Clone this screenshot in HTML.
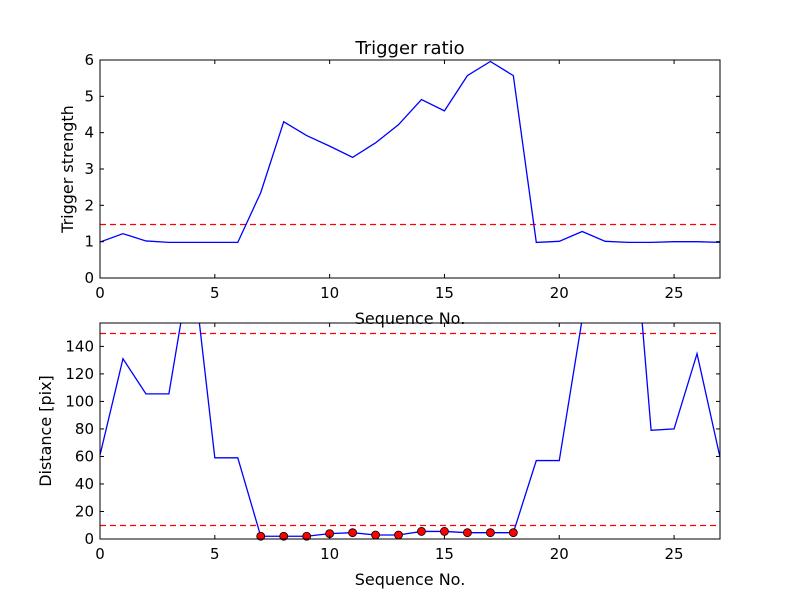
<!DOCTYPE html>
<html><head><meta charset="utf-8"><style>
body{margin:0;background:#fff}
svg{display:block;font-family:"DejaVu Sans","Liberation Sans",sans-serif}
</style></head><body>
<svg id="fig" width="800" height="600">
</svg>
<script>
const seq = [0,1,2,3,4,5,6,7,8,9,10,11,12,13,14,15,16,17,18,19,20,21,22,23,24,25,26,27];
const strength = [0.99,1.22,1.02,0.98,0.98,0.98,0.98,2.35,4.30,3.92,3.63,3.32,3.72,4.22,4.91,4.60,5.57,5.96,5.57,0.98,1.01,1.28,1.01,0.98,0.98,1.0,1.0,0.98];
const strengthThreshold = 1.5;
const distance = [61,131,105.5,105.5,205,59,59,2,2,2,3.9,4.6,2.9,2.9,5.5,5.5,4.6,4.6,4.6,57,57,160,250,280,79,80,134.7,59.4];
const markerIdx = [7,8,9,10,11,12,13,14,15,16,17,18];
const distThresholds = [150,10];
const xTicks = [0,5,10,15,20,25];
const yTicksTop = [0,1,2,3,4,5,6];
const yTicksBot = [0,20,40,60,80,100,120,140];

const NS="http://www.w3.org/2000/svg";
const svg=document.getElementById('fig');
function mk(tag,attrs,parent){const e=document.createElementNS(NS,tag);for(const k in attrs)e.setAttribute(k,attrs[k]);(parent||svg).appendChild(e);return e;}
const X0=100,X1=720;
const xs=v=>X0+(v-0)/(27-0)*(X1-X0);

function panel(name,top,bot,ymax,yTicks,series,thresholds,xlabel,ylabel,title,markers){
  const ys=v=>bot-(v/ymax)*(bot-top);
  const g=mk('g',{});
  
  
  const cp=mk('clipPath',{id:'cp-'+name},g);
  mk('rect',{x:X0,y:top,width:X1-X0,height:bot-top},cp);
  const plot=mk('g',{'clip-path':'url(#cp-'+name+')'},g);
  thresholds.forEach(t=>{
    const l=mk('line',{x1:X0,x2:X1,y1:Math.round(ys(t))+0.5,y2:Math.round(ys(t))+0.5,stroke:'#ff0000','stroke-width':1.3,'stroke-dasharray':'6,4'},plot);
    
    
  });
  const pts=seq.map((s,i)=>xs(s)+','+ys(series[i])).join(' ');
  const pl=mk('polyline',{points:pts,fill:'none',stroke:'#0000ff','stroke-width':1.3},plot);
  
  
  if(markers){markers.forEach(i=>{
    const c=mk('circle',{cx:xs(seq[i]),cy:ys(series[i]),r:4,fill:'#ff0000',stroke:'#000','stroke-width':0.8},g);
    
    
  });}
  mk('rect',{x:X0,y:top,width:X1-X0,height:bot-top,fill:'none',stroke:'#000','stroke-width':1},g);
  xTicks.forEach(t=>{
    const x=xs(t);
    mk('line',{x1:x,x2:x,y1:bot,y2:bot-4,stroke:'#000'},g);
    mk('line',{x1:x,x2:x,y1:top,y2:top+4,stroke:'#000'},g);
    const tx=mk('text',{x:x,y:bot+20,'text-anchor':'middle','font-size':15},g);
    tx.textContent=t;
    
    
  });
  yTicks.forEach(t=>{
    const y=ys(t);
    mk('line',{x1:X0,x2:X0+4,y1:y,y2:y,stroke:'#000'},g);
    mk('line',{x1:X1,x2:X1-4,y1:y,y2:y,stroke:'#000'},g);
    const tx=mk('text',{x:X0-6,y:y+5,'text-anchor':'end','font-size':15},g);
    tx.textContent=t;
    
    
  });
  const xl=mk('text',{x:(X0+X1)/2,y:bot+46,'text-anchor':'middle','font-size':16},g);
  xl.textContent=xlabel;
  
  
  const cy=(top+bot)/2;
  const yl=mk('text',{x:0,y:0,'text-anchor':'middle','font-size':16,transform:`translate(${ylabel.x},${cy}) rotate(-90)`},g);
  yl.textContent=ylabel.t;
  
  
  if(title){
    const tt=mk('text',{x:(X0+X1)/2,y:top-6,'text-anchor':'middle','font-size':18},g);
    tt.textContent=title;
    
    
  }
}
panel('trigger-strength-panel',60,278,6,yTicksTop,strength,[strengthThreshold],'Sequence No.',{t:'Trigger strength',x:73},'Trigger ratio',null);
panel('distance-panel',323,539,157,yTicksBot,distance,distThresholds,'Sequence No.',{t:'Distance [pix]',x:51},null,markerIdx);
</script>
</body></html>
